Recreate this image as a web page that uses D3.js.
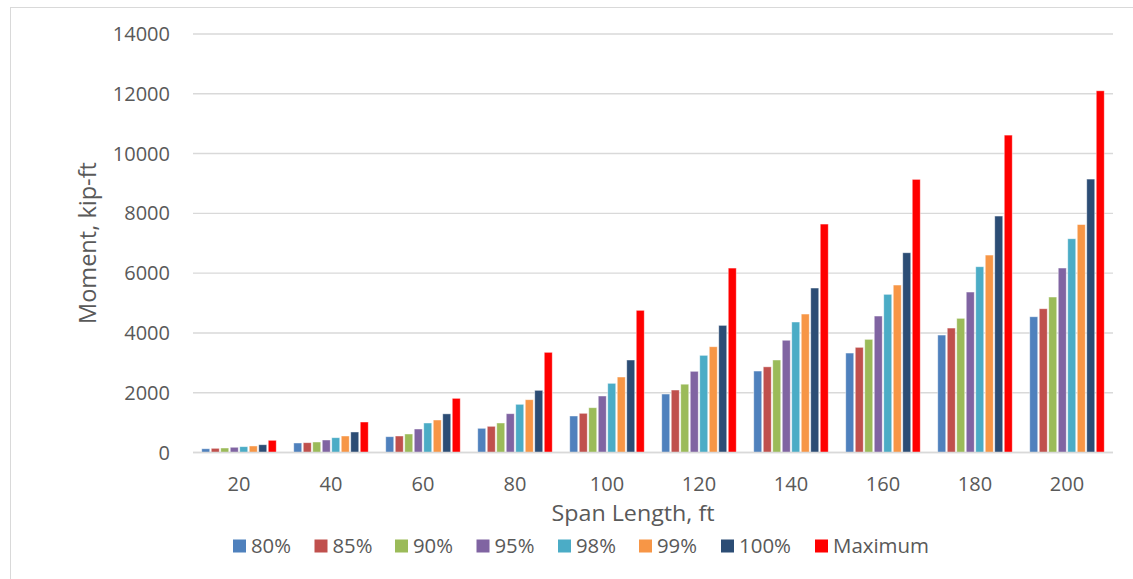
<!DOCTYPE html>
<html>
<head>
<meta charset="utf-8">
<script src="https://cdn.jsdelivr.net/npm/d3@7"></script>
<style>
  html, body { margin: 0; padding: 0; background: #fff; }
  svg { display: block; font-family: "Open Sans", "Noto Sans", sans-serif; }
</style>
</head>
<body>
<svg id="chart" width="1133" height="579"></svg>
<script>
// ---- data ----
const spans = ["20", "40", "60", "80", "100", "120", "140", "160", "180", "200"];
const seriesNames = ["80%", "85%", "90%", "95%", "98%", "99%", "100%", "Maximum"];
const seriesColors = ["#4F81BD", "#C0504D", "#9BBB59", "#8064A2", "#4BACC6", "#F79646", "#2C4D75", "#FF0000"];
const p80  = [125, 318, 528, 809, 1221, 1956, 2725, 3327, 3929, 4541];
const p85  = [140, 328, 552, 876, 1311, 2090, 2866, 3518, 4163, 4809];
const p90  = [150, 351, 619, 987, 1498, 2285, 3094, 3785, 4488, 5201];
const p95  = [175, 418, 786, 1298, 1890, 2716, 3755, 4565, 5368, 6171];
const p98  = [195, 495, 987, 1612, 2314, 3250, 4365, 5291, 6214, 7150];
const p99  = [218, 552, 1087, 1766, 2525, 3538, 4632, 5602, 6605, 7625];
const p100 = [260, 686, 1293, 2080, 3094, 4253, 5502, 6682, 7910, 9147];
const pMax = [408, 1020, 1812, 3351, 4756, 6170, 7642, 9137, 10618, 12100];
const yTicks = [0, 2000, 4000, 6000, 8000, 10000, 12000, 14000];
const xTitle = "Span Length, ft";
const yTitle = "Moment, kip-ft";

const seriesValues = [p80, p85, p90, p95, p98, p99, p100, pMax];

// ---- layout ----
const svg = d3.select("#chart");
const plot = { left: 193, right: 1113, top: 34, bottom: 452.5 };
const textColor = "#595959";
const gridColor = "#D9D9D9";

// outer chart border
svg.append("rect")
  .attr("x", 10.5).attr("y", 7.5)
  .attr("width", 1140).attr("height", 600)
  .attr("fill", "none").attr("stroke", "#D9D9D9").attr("stroke-width", 1);

const x0 = d3.scaleBand().domain(spans).range([plot.left, plot.right])
  .paddingInner(16 / 92).paddingOuter(8 / 92);
const x1 = d3.scaleBand().domain(seriesNames).range([0, x0.bandwidth()]);
const y = d3.scaleLinear().domain([0, 14000]).range([plot.bottom, plot.top]);

// gridlines
svg.append("g").selectAll("line").data(yTicks).join("line")
  .attr("x1", plot.left).attr("x2", plot.right)
  .attr("y1", d => y(d)).attr("y2", d => y(d))
  .attr("stroke", gridColor).attr("stroke-width", 1.4);

// y tick labels
svg.append("g").selectAll("text").data(yTicks).join("text")
  .attr("x", 170).attr("y", d => y(d))
  .attr("dy", "0.35em")
  .attr("text-anchor", "end")
  .attr("font-size", 20)
  .attr("fill", textColor)
  .text(d => d);

// bars
const groups = svg.append("g").selectAll("g").data(spans).join("g")
  .attr("transform", d => `translate(${x0(d)},0)`);
groups.selectAll("rect")
  .data((d, i) => seriesNames.map((s, j) => ({ s, j, v: seriesValues[j][i] })))
  .join("rect")
  .attr("x", d => x1(d.s) + 0.75)
  .attr("width", x1.bandwidth() - 1.5)
  .attr("y", d => y(d.v))
  .attr("height", d => y(0) - y(d.v))
  .attr("fill", d => seriesColors[d.j])
  .attr("stroke", "#ffffff").attr("stroke-opacity", 0.55).attr("stroke-width", 0.8);

// baseline on top
svg.append("line")
  .attr("x1", plot.left).attr("x2", plot.right)
  .attr("y1", y(0)).attr("y2", y(0))
  .attr("stroke", gridColor).attr("stroke-width", 1.6);

// x tick labels
svg.append("g").selectAll("text").data(spans).join("text")
  .attr("x", d => x0(d) + x0.bandwidth() / 2)
  .attr("y", 484)
  .attr("dy", "0.35em")
  .attr("text-anchor", "middle")
  .attr("font-size", 20)
  .attr("fill", textColor)
  .text(d => d);

// axis titles
svg.append("text")
  .attr("x", 633).attr("y", 513)
  .attr("dy", "0.35em")
  .attr("text-anchor", "middle")
  .attr("font-size", 22)
  .attr("fill", textColor)
  .attr("textLength", 163).attr("lengthAdjust", "spacingAndGlyphs")
  .text(xTitle);

svg.append("text")
  .attr("transform", "translate(88,243) rotate(-90)")
  .attr("dy", "0.35em")
  .attr("text-anchor", "middle")
  .attr("font-size", 23)
  .attr("fill", textColor)
  .attr("textLength", 162).attr("lengthAdjust", "spacingAndGlyphs")
  .text(yTitle);

// legend
const legendSwatchX = [233, 314.5, 395, 476.5, 558, 639, 721, 815];
const legendTextW = [40, 40, 40, 40, 40, 40, 52, 96];
const leg = svg.append("g").selectAll("g").data(seriesNames).join("g")
  .attr("transform", (d, i) => `translate(${legendSwatchX[i]},546)`);
leg.append("rect")
  .attr("x", 0).attr("y", -6.5).attr("width", 13).attr("height", 13)
  .attr("fill", (d, i) => seriesColors[i]);
leg.append("text")
  .attr("x", 18).attr("y", 0).attr("dy", "0.35em")
  .attr("font-size", 20)
  .attr("fill", textColor)
  .attr("textLength", (d, i) => legendTextW[i]).attr("lengthAdjust", "spacingAndGlyphs")
  .text(d => d);
</script>
</body>
</html>
